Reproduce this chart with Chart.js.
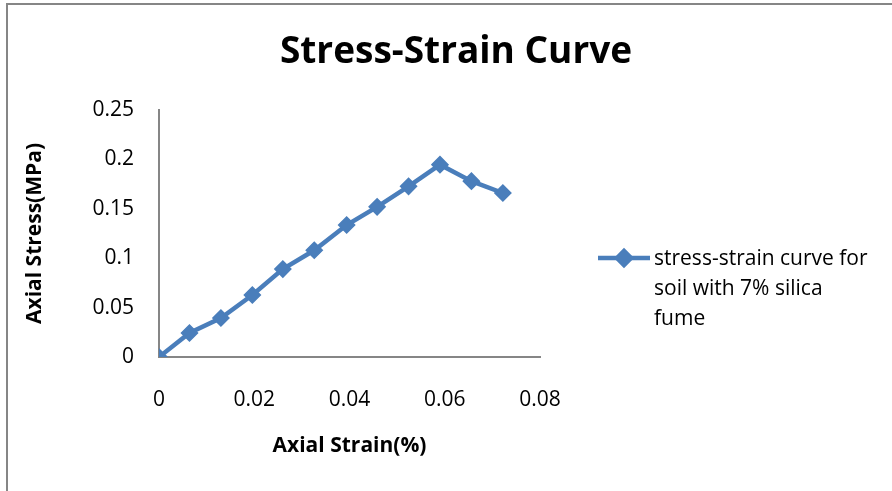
<!DOCTYPE html>
<html>
<head>
<meta charset="utf-8">
<script src="https://cdn.jsdelivr.net/npm/chart.js@4"></script>
<style>
  html, body { margin: 0; padding: 0; background: #fff; }
  #wrap { width: 892px; height: 491px; }
</style>
</head>
<body>
<div id="wrap"><canvas id="stressChart" width="892" height="491"></canvas></div>
<script>
// axial strain (%) and axial stress (MPa) readings
const strain = [0, 0.0064, 0.013, 0.0196, 0.026, 0.0326, 0.0394, 0.0458, 0.0524, 0.059, 0.0656, 0.0722];
const stress = [0, 0.0243, 0.0395, 0.0628, 0.089, 0.108, 0.1336, 0.152, 0.1727, 0.1947, 0.178, 0.166];
const seriesLabel = ['stress-strain curve for', 'soil with 7% silica', 'fume'];

const FONT = '"Open Sans", "Noto Sans", sans-serif';
const BLUE = '#4a7ebb';
const AXIS_GRAY = '#868686';

function fmt(v) {
    return String(Number(v.toFixed(3)));
}

// chart frame plus the wrapped legend on the right
const frameAndLegend = {
    id: 'frameAndLegend',
    beforeDraw(chart) {
        const ctx = chart.ctx;
        ctx.save();
        ctx.fillStyle = '#fff';
        ctx.fillRect(0, 0, chart.width, chart.height);
        ctx.strokeStyle = AXIS_GRAY;
        ctx.lineWidth = 2;
        ctx.beginPath();
        ctx.moveTo(7, chart.height);
        ctx.lineTo(7, 4);
        ctx.lineTo(chart.width, 4);
        ctx.stroke();
        ctx.restore();
    },
    afterDraw(chart) {
        const ctx = chart.ctx;
        const ds = chart.data.datasets[0];
        const x0 = 598, x1 = 650, y = 258;
        ctx.save();
        ctx.strokeStyle = ds.borderColor;
        ctx.lineWidth = ds.borderWidth;
        ctx.beginPath();
        ctx.moveTo(x0, y);
        ctx.lineTo(x1, y);
        ctx.stroke();
        Chart.helpers.drawPoint(ctx, {
            pointStyle: 'rectRot', radius: 7, borderWidth: 1
        }, (x0 + x1) / 2, y);
        ctx.fillStyle = ds.pointBackgroundColor;
        ctx.fill();
        ctx.fillStyle = '#000';
        ctx.font = '21px ' + FONT;
        ctx.textBaseline = 'middle';
        ctx.textAlign = 'left';
        seriesLabel.forEach((line, i) => ctx.fillText(line, 654, y + 1 + i * 30));
        ctx.restore();
    }
};

new Chart(document.getElementById('stressChart'), {
    type: 'scatter',
    data: {
        datasets: [{
            label: seriesLabel.join(' '),
            data: strain.map((s, i) => ({ x: s, y: stress[i] })),
            showLine: true,
            borderColor: BLUE,
            backgroundColor: BLUE,
            pointBackgroundColor: BLUE,
            pointBorderColor: BLUE,
            borderWidth: 4.5,
            pointStyle: 'rectRot',
            pointRadius: 8,
            pointBorderWidth: 1.5,
            tension: 0
        }]
    },
    plugins: [frameAndLegend],
    options: {
        responsive: false,
        animation: false,
        layout: { padding: { left: 20, top: 0, right: 0, bottom: 0 } },
        plugins: {
            legend: { display: false },
            tooltip: { enabled: false },
            title: {
                display: true,
                text: 'Stress-Strain Curve',
                color: '#000',
                font: { family: FONT, size: 37, weight: 'bold', lineHeight: 1.2 },
                padding: { top: 30, bottom: 35.6 }
            }
        },
        scales: {
            x: {
                type: 'linear',
                min: 0,
                max: 0.08,
                afterFit(scale) { scale.height = 134; },
                grid: { display: false, drawTicks: false },
                border: { display: true, color: AXIS_GRAY, width: 2 },
                ticks: {
                    stepSize: 0.02,
                    padding: 30,
                    color: '#000',
                    font: { family: FONT, size: 21 },
                    callback: v => fmt(v)
                },
                title: {
                    display: true,
                    text: 'Axial Strain(%)',
                    color: '#000',
                    font: { family: FONT, size: 21, weight: 'bold', lineHeight: 1.2 },
                    padding: { top: 0, bottom: 32 }
                }
            },
            y: {
                min: 0,
                max: 0.25,
                afterFit(scale) { scale.width = 139; },
                grid: { display: false, drawTicks: false },
                border: { display: true, color: AXIS_GRAY, width: 2 },
                ticks: {
                    stepSize: 0.05,
                    padding: 25,
                    color: '#000',
                    font: { family: FONT, size: 21 },
                    callback: v => fmt(v)
                },
                title: {
                    display: true,
                    text: 'Axial Stress(MPa)',
                    color: '#000',
                    font: { family: FONT, size: 21, weight: 'bold', lineHeight: 1.2 },
                    padding: { top: 2, bottom: 0 }
                }
            },
            // empty right-hand axis that reserves room for the legend
            side: {
                position: 'right',
                min: 0,
                max: 1,
                afterFit(scale) { scale.width = 352; },
                grid: { display: false, drawTicks: false },
                border: { display: false },
                ticks: { display: false }
            }
        }
    }
});
</script>
</body>
</html>
